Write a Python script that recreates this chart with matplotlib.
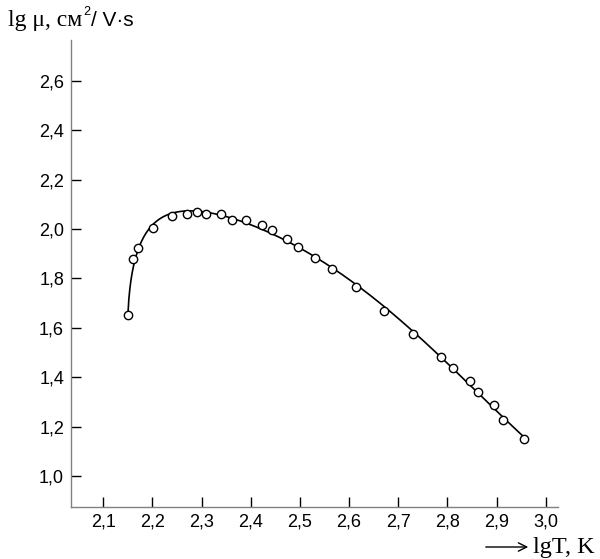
import numpy as np
import matplotlib.pyplot as plt
from matplotlib.patches import FancyArrowPatch

# data
lg_T = [2.150, 2.160, 2.171, 2.201, 2.240, 2.270, 2.291, 2.309, 2.340, 2.362,
        2.390, 2.423, 2.443, 2.473, 2.496, 2.530, 2.565, 2.615, 2.672, 2.730,
        2.788, 2.811, 2.845, 2.863, 2.894, 2.914, 2.955]
lg_mu = [1.652, 1.877, 1.925, 2.002, 2.053, 2.059, 2.070, 2.061, 2.062, 2.035,
         2.036, 2.016, 1.996, 1.960, 1.926, 1.882, 1.839, 1.767, 1.669, 1.574,
         1.481, 1.437, 1.386, 1.342, 1.286, 1.227, 1.150]

x_ticks = [2.1, 2.2, 2.3, 2.4, 2.5, 2.6, 2.7, 2.8, 2.9, 3.0]
y_ticks = [1.0, 1.2, 1.4, 1.6, 1.8, 2.0, 2.2, 2.4, 2.6]

W, H = 600, 559
fig = plt.figure(figsize=(W / 100, H / 100), dpi=100)
ax = fig.add_axes([71 / W, 1 - 507 / H, (558 - 71) / W, (507 - 40) / H])

x = np.array(lg_T)
y = np.array(lg_mu)

# smooth fit with a sqrt term for the steep rise at low T
x0 = x[0] - 0.001
def basis(xx):
    u = xx - x0
    return np.column_stack([np.ones_like(u), np.sqrt(u), u, u**2, u**3, u**4])
w = np.ones_like(x)
w[0] = 20
coef, *_ = np.linalg.lstsq(basis(x) * w[:, None], y * w, rcond=None)
xs = np.linspace(x[0], x[-1], 400)
ax.plot(xs, basis(xs) @ coef, color='black', lw=1.2, zorder=2)

ax.plot(x, y, 'o', ms=6, mfc='white', mec='black', mew=1.0, zorder=3)

ax.set_xlim(2.0343, 3.025)
ax.set_ylim(0.8746, 2.765)

for s in ['top', 'right']:
    ax.spines[s].set_visible(False)
for s in ['left', 'bottom']:
    ax.spines[s].set_color('#808080')
    ax.spines[s].set_linewidth(1.0)

ax.set_xticks(x_ticks)
ax.set_xticklabels([f"{t:.1f}".replace('.', ',') for t in x_ticks])
ax.set_yticks(y_ticks)
ax.set_yticklabels([f"{t:.1f}".replace('.', ',') for t in y_ticks])
ax.tick_params(direction='in', length=7, width=1.0, color='black',
               labelsize=13, pad=5)
for lab in ax.get_xticklabels() + ax.get_yticklabels():
    lab.set_family('Liberation Sans')

# y title: serif part, superscript, then sans part, placed one after another
t1 = fig.text(8 / W, 1 - 26 / H, "lg μ, см", family='Liberation Serif',
              fontsize=17, va='baseline', ha='left')
fig.canvas.draw()
r = fig.canvas.get_renderer()
x1 = t1.get_window_extent(r).x1
t2 = fig.text((x1 + 1) / W, 1 - 15 / H, "2", family='Liberation Sans',
              fontsize=9, va='baseline', ha='left')
x2 = t2.get_window_extent(r).x1
fig.text((x2 + 1) / W, 1 - 26 / H, "/ V·s", family='Liberation Sans',
         fontsize=15, va='baseline', ha='left')

arr = FancyArrowPatch((483, H - 547), (531, H - 547), transform=None,
                      arrowstyle='->,head_length=6,head_width=3',
                      lw=1.0, color='black')
fig.add_artist(arr)
fig.text(533 / W, 1 - 553 / H, "lgT, K", family='Liberation Serif',
         fontsize=17.5, va='baseline', ha='left')

fig.savefig('out.png', dpi=100)
